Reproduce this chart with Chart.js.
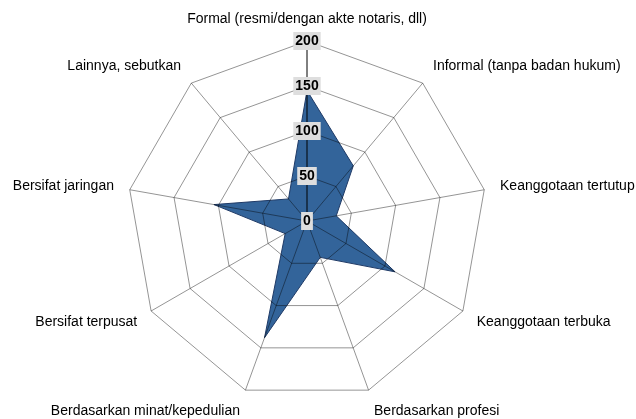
<!DOCTYPE html>
<html>
<head>
<meta charset="utf-8">
<script src="https://cdn.jsdelivr.net/npm/chart.js@4/dist/chart.umd.min.js"></script>
<style>
  html, body { margin: 0; padding: 0; background: #fff; }
  #wrap { width: 636px; height: 419px; position: relative; }
</style>
</head>
<body>
<div id="wrap"><canvas id="c" width="636" height="419"></canvas></div>
<script>
const categories = [
  'Formal (resmi/dengan akte notaris, dll)',
  'Informal (tanpa badan hukum)',
  'Keanggotaan tertutup',
  'Keanggotaan terbuka',
  'Berdasarkan profesi',
  'Berdasarkan minat/kepedulian',
  'Bersifat terpusat',
  'Bersifat jaringan',
  'Lainnya, sebutkan'
];
const seriesValues = [145, 80, 33, 113, 43, 138, 28, 105, 32];
const tickLabels = ['0', '50', '100', '150', '200'];

const FONT = '"Liberation Sans", Arial, sans-serif';
const BACKDROP = '#dedede';
const GRID = 'rgba(0,0,0,0.42)';

// Draws the "0" tick (Chart.js skips the centre tick) and the category labels
const labelsPlugin = {
  id: 'labelsPlugin',
  afterDraw(chart) {
    const s = chart.scales.r;
    const ctx = chart.ctx;
    ctx.save();
    // zero tick label
    ctx.font = 'bold 14px ' + FONT;
    const txt = tickLabels[0];
    const w = ctx.measureText(txt).width;
    const h = 14, p = 2;
    ctx.fillStyle = BACKDROP;
    ctx.fillRect(s.xCenter - w / 2 - p, s.yCenter - h / 2 - p, w + 2 * p, h + 2 * p);
    ctx.fillStyle = '#000';
    ctx.textAlign = 'center';
    ctx.textBaseline = 'middle';
    ctx.fillText(txt, s.xCenter, s.yCenter);

    // category labels
    ctx.font = '14px ' + FONT;
    ctx.fillStyle = '#000';
    ctx.textBaseline = 'middle';
    categories.forEach((lab, i) => {
      const pos = s.getPointPosition(i, s.drawingArea + 16);
      const a = s.getIndexAngle(i);
      const sn = Math.sin(a);
      let align = 'center';
      if (sn > 0.05) align = 'left';
      else if (sn < -0.05) align = 'right';
      ctx.textAlign = align;
      const y = pos.y - 6 * Math.cos(a);
      ctx.fillText(lab, pos.x, y);
    });
    ctx.restore();
  }
};

new Chart(document.getElementById('c'), {
  type: 'radar',
  data: {
    labels: categories,
    datasets: [{
      data: seriesValues,
      backgroundColor: '#33649a',
      borderColor: '#1f3a66',
      borderWidth: 1,
      pointRadius: 0,
      pointHoverRadius: 0,
      fill: true
    }]
  },
  options: {
    responsive: false,
    animation: false,
    layout: { padding: 0 },
    plugins: { legend: { display: false }, tooltip: { enabled: false } },
    elements: { line: { tension: 0 } },
    scales: {
      r: {
        min: 0,
        max: 200,
        beginAtZero: true,
        afterSetDimensions(scale) {
          scale._padding = { top: 0, left: 0, right: 0, bottom: 0, width: 0, height: 0 };
          scale.xCenter = 307;
          scale.yCenter = 221;
          scale.drawingArea = 180;
        },
        grid: { color: GRID, lineWidth: 1, z: 1 },
        angleLines: {
          color: (ctx) => ctx.index === 0 ? '#000' : GRID,
          lineWidth: 1
        },
        ticks: {
          z: 2,
          stepSize: 50,
          font: { family: FONT, size: 14, weight: 'bold' },
          color: '#000',
          backdropColor: BACKDROP,
          backdropPadding: 2,
          showLabelBackdrop: true,
          callback: (v) => tickLabels[Math.round(v / 50)]
        },
        pointLabels: { display: false }
      }
    }
  },
  plugins: [labelsPlugin]
});
</script>
</body>
</html>
